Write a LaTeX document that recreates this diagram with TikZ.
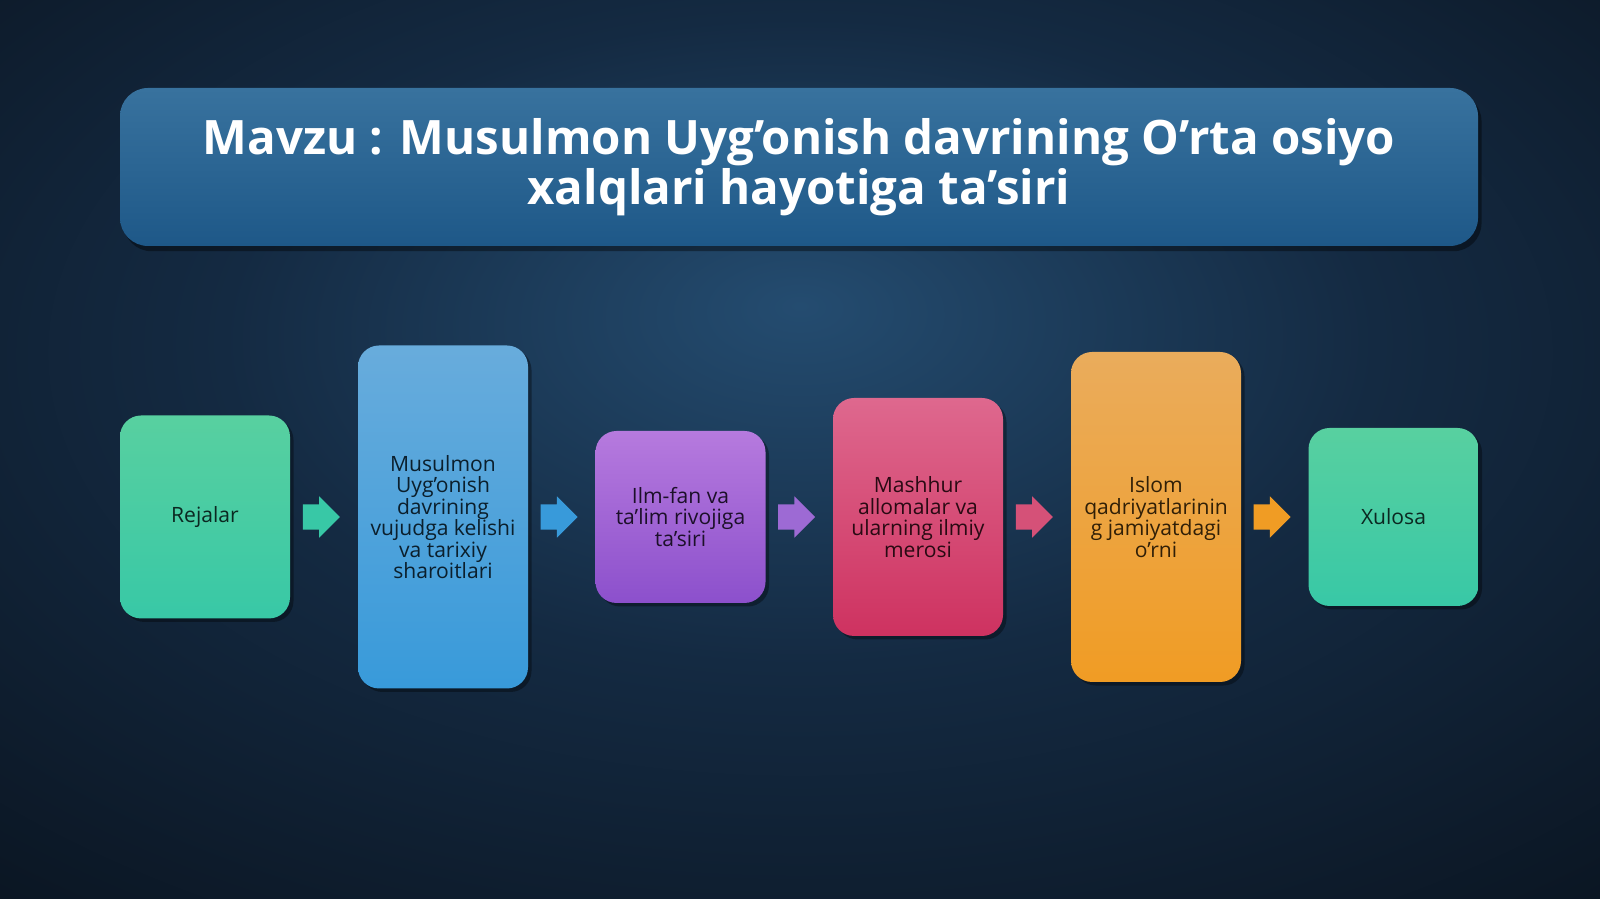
\documentclass[tikz,border=0pt]{standalone}
\usepackage{fontspec}
\setmainfont{Open Sans}
\usetikzlibrary{shapes.arrows,shadows,calc}

\definecolor{bgmid}{RGB}{36,76,112}
\definecolor{bgin}{RGB}{20,42,66}
\definecolor{bgout}{RGB}{10,20,32}
\definecolor{bgcorner}{RGB}{6,11,18}
\definecolor{titletop}{RGB}{56,114,158}
\definecolor{titlebot}{RGB}{30,88,136}
\definecolor{greentop}{RGB}{88,208,160}
\definecolor{greenbot}{RGB}{56,200,166}
\definecolor{bluetop}{RGB}{104,172,220}
\definecolor{bluebot}{RGB}{56,154,218}
\definecolor{purpletop}{RGB}{182,122,222}
\definecolor{purplebot}{RGB}{140,80,204}
\definecolor{redtop}{RGB}{222,104,142}
\definecolor{redbot}{RGB}{206,50,96}
\definecolor{orangetop}{RGB}{234,172,92}
\definecolor{orangebot}{RGB}{240,156,36}

\pgfdeclareradialshading{slidebg}{\pgfpoint{0bp}{8bp}}{%
  color(0bp)=(bgmid); color(18bp)=(bgin); color(40bp)=(bgout); color(72bp)=(bgcorner)}

\tikzset{
  plan/.style={rounded corners=6pt, minimum width=1.70cm, inner sep=2pt,
    align=center, font=\fontsize{6}{6.1}\selectfont,
    drop shadow={color=black, opacity=0.35, shadow xshift=1pt, shadow yshift=-1pt}},
  flow/.style={single arrow, draw=none, fill=#1, inner xsep=0pt, inner ysep=0.12cm,
    minimum height=0.37cm, single arrow head extend=0.08cm, xshift=-0.09cm}
}

\begin{document}
\begin{tikzpicture}
      \useasboundingbox (0,0) rectangle (16,8.99);
      \shade[shading=slidebg] (0,0) rectangle (16,8.99);
      % title
      \node[rounded corners=8pt, minimum width=13.58cm, minimum height=1.58cm,
            top color=titletop, bottom color=titlebot, align=center, text=white,
            font=\bfseries\fontsize{13.5}{14.3}\selectfont,
            drop shadow={color=black, opacity=0.4, shadow xshift=1pt, shadow yshift=-1.5pt}]
            (title) at (7.99, 7.32)
            {Mavzu : Musulmon Uyg’onish davrining O’rta osiyo\\xalqlari hayotiga ta’siri};
      % plans
      \node[plan, minimum height=2.03cm, top color=greentop, bottom color=greenbot,
            text=greenbot!20!black] (rejalar) at (2.05, 3.82) {Rejalar};
      \node[plan, minimum height=3.43cm, top color=bluetop, bottom color=bluebot,
            text=bluebot!20!black] (sharoit) at (4.43, 3.82)
            {Musulmon\\Uyg’onish\\davrining\\vujudga kelishi\\va tarixiy\\sharoitlari};
      \node[plan, minimum height=1.72cm, top color=purpletop, bottom color=purplebot,
            text=purplebot!20!black] (ilmfan) at (6.805, 3.82)
            {Ilm-fan va\\ta’lim rivojiga\\ta’siri};
      \node[plan, minimum height=2.38cm, top color=redtop, bottom color=redbot,
            text=redbot!20!black] (meros) at (9.18, 3.82)
            {Mashhur\\allomalar va\\ularning ilmiy\\merosi};
      \node[plan, minimum height=3.30cm, top color=orangetop, bottom color=orangebot,
            text=orangebot!20!black] (islom) at (11.56, 3.82)
            {Islom\\qadriyatlarinin\\g jamiyatdagi\\o’rni};
      \node[plan, minimum height=1.78cm, top color=greentop, bottom color=greenbot,
            text=greenbot!20!black] (xulosa) at (13.935, 3.82) {Xulosa};
      % arrows between plans
      \node[flow=greenbot] (a1) at ($(rejalar.east)!0.5!(sharoit.west)$) {};
      \node[flow=bluebot] (a2) at ($(sharoit.east)!0.5!(ilmfan.west)$) {};
      \node[flow=purplebot!85!white] (a3) at ($(ilmfan.east)!0.5!(meros.west)$) {};
      \node[flow=redbot!85!white] (a4) at ($(meros.east)!0.5!(islom.west)$) {};
      \node[flow=orangebot] (a5) at ($(islom.east)!0.5!(xulosa.west)$) {};
\end{tikzpicture}
\end{document}
